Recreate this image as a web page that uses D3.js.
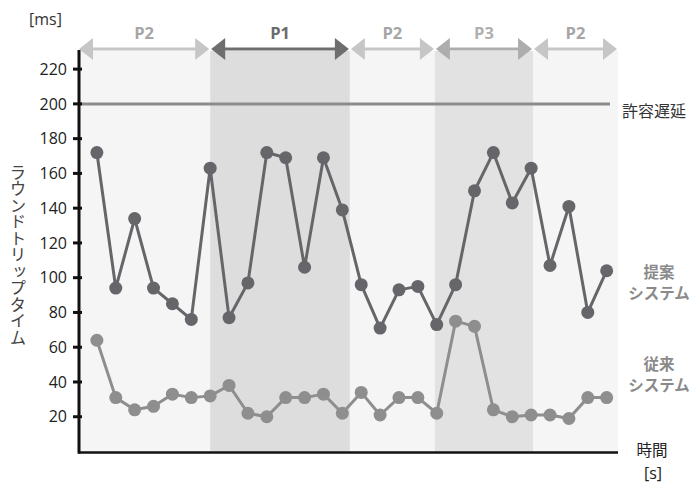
<!DOCTYPE html>
<html>
<head>
<meta charset="utf-8">
<script src="https://cdn.jsdelivr.net/npm/d3@7"></script>
<style>
  html, body { margin: 0; padding: 0; background: #ffffff; }
  svg { display: block; }
</style>
</head>
<body>
<svg id="chart" width="693" height="484"></svg>
<script>
// Round-trip time per second for the two systems
const times = d3.range(1, 29);
const proposed = [172, 94, 134, 94, 85, 76, 163, 77, 97, 172, 169, 106, 169, 139,
                  96, 71, 93, 95, 73, 96, 150, 172, 143, 163, 107, 141, 80, 104];
const conventional = [64, 31, 24, 26, 33, 31, 32, 38, 22, 20, 31, 31, 33, 22,
                      34, 21, 31, 31, 22, 75, 72, 24, 20, 21, 21, 19, 31, 31];

// Network phases over the time axis
const phaseNames = ["P2", "P1", "P2", "P3", "P2"];
const phaseStart = [0, 7, 14.4, 18.9, 24.1];
const phaseEnd = [7, 14.4, 18.9, 24.1, 28.6];

const yTicks = [20, 40, 60, 80, 100, 120, 140, 160, 180, 200, 220];
const allowedDelay = 200;

const phaseStyle = {
  P1: { band: "#dddddd", arrow: "#6e6e6e", text: "#6b6b6b" },
  P2: { band: "#f5f5f5", arrow: "#c6c6c6", text: "#a6a6a6" },
  P3: { band: "#e2e2e2", arrow: "#adadad", text: "#b0b0b0" }
};

const svg = d3.select("#chart");
const x = d3.scaleLinear().domain([0, 28.6]).range([78, 618]);
const y = d3.scaleLinear().domain([0, 231]).range([451.5, 50]);

const jp = "'Noto Sans CJK JP', 'Noto Sans', sans-serif";
const latin = "'Open Sans', 'Noto Sans', sans-serif";

// Phase background bands
const phases = phaseNames.map((p, i) => ({ name: p, s: phaseStart[i], e: phaseEnd[i] }));
svg.append("g").selectAll("rect").data(phases).join("rect")
  .attr("x", d => x(d.s))
  .attr("y", y(231) + 1)
  .attr("width", d => x(d.e) - x(d.s))
  .attr("height", y(0) - y(231) - 1)
  .attr("fill", d => phaseStyle[d.name].band);

// Double-headed phase arrows
const arrowY = y(231) - 1;
const headL = 14, headH = 11;
const arrows = svg.append("g");
phases.forEach(d => {
  const x0 = x(d.s) + 1, x1 = x(d.e) - 1;
  const c = phaseStyle[d.name].arrow;
  arrows.append("line")
    .attr("x1", x0 + headL - 2).attr("x2", x1 - headL + 2)
    .attr("y1", arrowY).attr("y2", arrowY)
    .attr("stroke", c).attr("stroke-width", 3);
  arrows.append("path")
    .attr("d", `M${x0},${arrowY} L${x0 + headL},${arrowY - headH} L${x0 + headL},${arrowY + headH} Z`)
    .attr("fill", c);
  arrows.append("path")
    .attr("d", `M${x1},${arrowY} L${x1 - headL},${arrowY - headH} L${x1 - headL},${arrowY + headH} Z`)
    .attr("fill", c);
  arrows.append("text")
    .attr("x", (x(d.s) + x(d.e)) / 2)
    .attr("y", 39)
    .attr("text-anchor", "middle")
    .attr("font-family", latin)
    .attr("font-weight", "bold")
    .attr("font-size", 16.5)
    .attr("fill", phaseStyle[d.name].text)
    .text(d.name);
});

// Allowed delay threshold
svg.append("line")
  .attr("x1", x(0) + 2).attr("x2", 610)
  .attr("y1", y(allowedDelay)).attr("y2", y(allowedDelay))
  .attr("stroke", "#8c8c8c").attr("stroke-width", 3);
svg.append("text")
  .attr("x", 622).attr("y", y(allowedDelay) + 13)
  .attr("font-family", jp).attr("font-size", 16)
  .attr("fill", "#333")
  .text("許容遅延");

// Series lines and markers
function drawSeries(values, color) {
  const g = svg.append("g");
  g.append("path")
    .datum(values)
    .attr("fill", "none")
    .attr("stroke", color)
    .attr("stroke-width", 3)
    .attr("stroke-linejoin", "round")
    .attr("d", d3.line().x((d, i) => x(times[i])).y(d => y(d)));
  g.selectAll("circle").data(values).join("circle")
    .attr("cx", (d, i) => x(times[i]))
    .attr("cy", d => y(d))
    .attr("r", 6.5)
    .attr("fill", color);
}
drawSeries(conventional, "#8e8e8f");
drawSeries(proposed, "#66666a");

// Y axis
const yAxis = svg.append("g")
  .attr("transform", `translate(${x(0) + 1},0)`)
  .call(d3.axisLeft(y).tickValues(yTicks).tickSize(0).tickPadding(12));
yAxis.select(".domain").remove();
yAxis.selectAll("text")
  .attr("font-family", latin).attr("font-size", 16).attr("fill", "#222");
yAxis.selectAll(".tickmark").data(yTicks).join("line")
  .attr("x1", -6).attr("x2", 3)
  .attr("y1", d => y(d)).attr("y2", d => y(d))
  .attr("stroke", "#111").attr("stroke-width", 3);
svg.append("line")
  .attr("x1", x(0) + 1).attr("x2", x(0) + 1)
  .attr("y1", y(231)).attr("y2", y(0) + 2)
  .attr("stroke", "#111").attr("stroke-width", 3);

// X axis
svg.append("line")
  .attr("x1", x(0)).attr("x2", x(28.6))
  .attr("y1", y(0) + 1).attr("y2", y(0) + 1)
  .attr("stroke", "#111").attr("stroke-width", 2.5);

// Axis titles
svg.append("text")
  .attr("x", 29).attr("y", 25)
  .attr("font-family", latin).attr("font-size", 16).attr("fill", "#333")
  .text("[ms]");
svg.append("text")
  .attr("x", 18).attr("y", 255)
  .attr("text-anchor", "middle")
  .style("writing-mode", "vertical-rl")
  .style("text-orientation", "upright")
  .attr("font-family", jp).attr("font-size", 16.5).attr("fill", "#444")
  .text("ラウンドトリップタイム");
svg.append("text")
  .attr("x", 652).attr("y", 456)
  .attr("text-anchor", "middle")
  .attr("font-family", jp).attr("font-size", 15.5).attr("fill", "#222")
  .text("時間");
svg.append("text")
  .attr("x", 653).attr("y", 479)
  .attr("text-anchor", "middle")
  .attr("font-family", latin).attr("font-size", 16).attr("fill", "#222")
  .text("[s]");

// Series labels
const seriesLabels = [
  { lines: ["提案", "システム"], y: 278 },
  { lines: ["従来", "システム"], y: 370 }
];
seriesLabels.forEach(l => {
  l.lines.forEach((t, i) => {
    svg.append("text")
      .attr("x", 659).attr("y", l.y + i * 21)
      .attr("text-anchor", "middle")
      .attr("font-family", jp).attr("font-weight", "bold")
      .attr("font-size", 15.5).attr("fill", "#8a8a8a")
      .text(t);
  });
});
</script>
</body>
</html>
